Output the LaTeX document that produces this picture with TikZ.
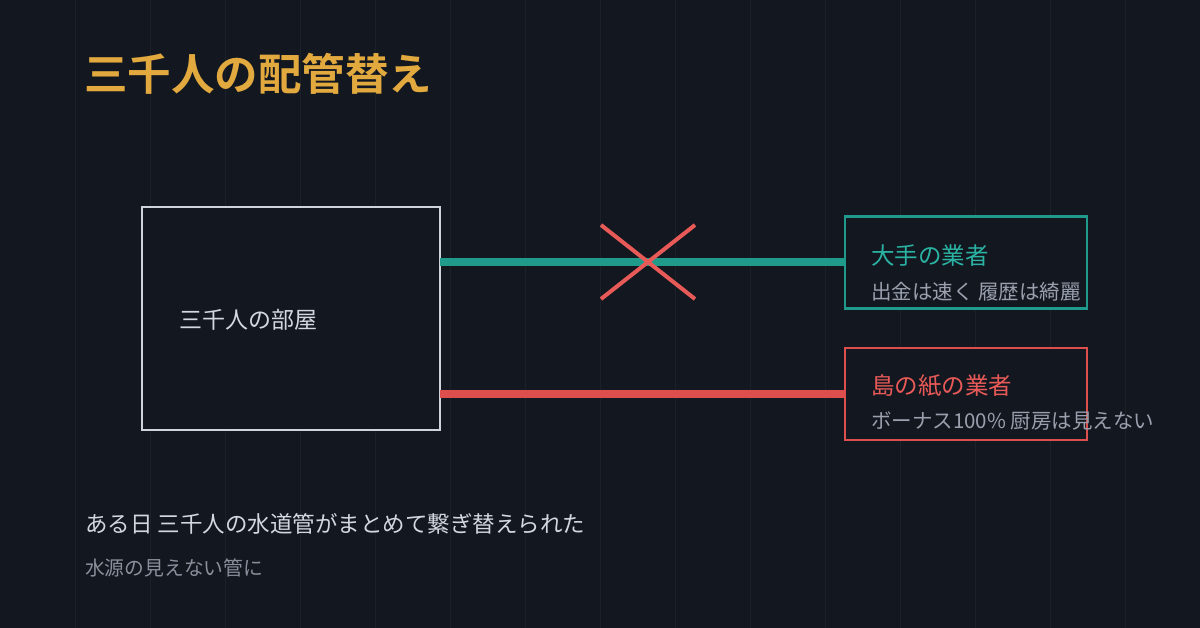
\documentclass[tikz,border=0pt]{standalone}
\usepackage{fontspec}
\setmainfont{Noto Sans CJK JP}
\newfontfamily\cjkbold{Noto Sans CJK JP Bold}
\definecolor{bg}{HTML}{131720}
\definecolor{gridc}{HTML}{1C2029}
\definecolor{gold}{HTML}{E2A93F}
\definecolor{roomc}{HTML}{CFD3DC}
\definecolor{tealc}{HTML}{1F9A8B}
\definecolor{tealt}{HTML}{2AB3A2}
\definecolor{redc}{HTML}{DD4F4D}
\definecolor{redt}{HTML}{E85A57}
\definecolor{subc}{HTML}{9AA0AD}
\definecolor{textc}{HTML}{D3D7DF}
\definecolor{mutec}{HTML}{8A8F9B}
\begin{document}
\begin{tikzpicture}[x=1pt,y=-1pt,
  every node/.style={inner sep=0pt,outer sep=0pt},
  lbl/.style={anchor=west,text=textc,font=\fontsize{23.5}{27}\selectfont},
  sublbl/.style={anchor=west,text=subc,font=\fontsize{20.5}{24}\selectfont},
  boxc/.style={draw,line width=2.4pt,minimum width=242pt,minimum height=92pt,fill=bg},
  pipe/.style={line width=8pt},
  cross/.style={draw=redt,line width=4pt}]
\useasboundingbox (0,0) rectangle (1200,628);
\fill[bg] (0,0) rectangle (1200,628);
\foreach \gx in {75,150,...,1125} \draw[gridc,line width=1pt] (\gx,0) -- (\gx,628);
% title
\node[anchor=west,text=gold,font=\cjkbold\fontsize{43.5}{48}\selectfont] (title) at (84,74) {三千人の配管替え};
% room
\node[draw=roomc,line width=2.4pt,minimum width=298pt,minimum height=223pt,fill=bg] (room) at (291,318.5) {};
\node[lbl,font=\fontsize{23}{27}\selectfont] (roomt) at (179,320) {三千人の部屋};
% vendor boxes
\node[boxc,draw=tealc] (tbox) at (966,262.5) {};
\node[boxc,draw=redc] (rbox) at (966,394) {};
% pipes
\draw[pipe,tealc] (room.east |- tbox.west) -- (tbox.west);
\draw[pipe,redc] (room.east |- rbox.west) -- (rbox.west);
% cross
\coordinate (xc) at (648,262);
\draw[cross] (xc) ++(-47,-37) -- ++(94,74);
\draw[cross] (xc) ++(47,-37) -- ++(-94,74);
% box texts
\node[lbl,text=tealt] (tname) at (871,256) {大手の業者};
\node[sublbl] (tsub) at (871,292) {出金は速く 履歴は綺麗};
\node[lbl,text=redt] (rname) at (871,386) {島の紙の業者};
\node[sublbl] (rsub) at (871,421) {ボーナス100\% 厨房は見えない};
% bottom text
\node[lbl,font=\fontsize{22.5}{26}\selectfont] (story) at (85,524) {ある日 三千人の水道管がまとめて繋ぎ替えられた};
\node[anchor=west,text=mutec,font=\fontsize{19.8}{24}\selectfont] (story2) at (85,568) {水源の見えない管に};
\end{tikzpicture}
\end{document}
